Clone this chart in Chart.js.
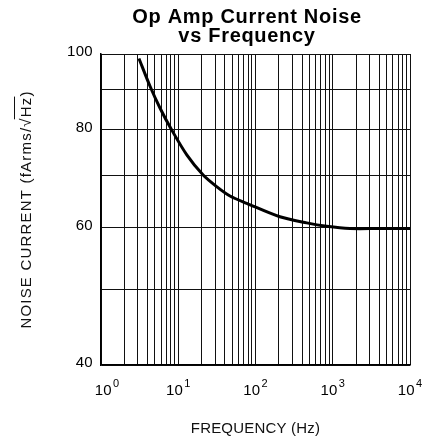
<!DOCTYPE html>
<html>
<head>
<meta charset="utf-8">
<script src="https://cdn.jsdelivr.net/npm/chart.js@4"></script>
<style>
  html, body { margin: 0; padding: 0; background: #fff; }
  #wrap { width: 427px; height: 440px; position: relative; }
</style>
</head>
<body>
<div id="wrap"><canvas id="noiseChart" width="427" height="440"></canvas></div>
<script>
// Values
const freqHz = [3.1, 4.3, 5.8, 8.2, 12.9, 21, 31.7, 46.8, 77, 207, 460, 834, 1670, 4000, 10000];
const noiseFa = [98.7, 91, 85.3, 80, 74.3, 70, 67.6, 65.8, 64.4, 61.9, 60.8, 60.2, 59.8, 59.8, 59.8];

// Grid lines and labelled ticks
const yGridValues = [40, 50, 60, 70, 80, 90, 100];
const yLabelValues = [40, 60, 80, 100];
const xDecades = [1, 10, 100, 1000];
const xSteps = [1, 2, 3, 4, 5, 6, 7, 8, 9];
const xLabelPowers = [0, 1, 2, 3, 4];

const titleLines = ['Op Amp Current Noise', 'vs Frequency'];
const xTitle = 'FREQUENCY (Hz)';
const yTitleMain = 'NOISE CURRENT (fArms/\u221A';
const yTitleRoot = 'Hz';
const yTitleEnd = ')';

// Draws titles and tick labels (superscript exponents) on top of the chart
const labelPlugin = {
    id: 'labels',
    afterDraw(chart) {
        const ctx = chart.ctx;
        const xs = chart.scales.x;
        const ys = chart.scales.y;
        const area = chart.chartArea;
        ctx.save();
        ctx.fillStyle = '#000';

        // title
        ctx.font = 'bold 20px "Liberation Sans", Arial, sans-serif';
        ctx.letterSpacing = '0.7px';
        ctx.textAlign = 'center';
        ctx.textBaseline = 'alphabetic';
        ctx.fillText(titleLines[0], 247, 23);
        ctx.fillText(titleLines[1], 247, 42);

        // y tick labels
        ctx.font = '15px "Liberation Sans", Arial, sans-serif';
        ctx.letterSpacing = '0.3px';
        ctx.textAlign = 'right';
        ctx.textBaseline = 'middle';
        yLabelValues.forEach(v => {
            ctx.fillText(String(v), area.left - 8, ys.getPixelForValue(v) - 2);
        });

        // x tick labels: 10 with raised exponent
        ctx.textAlign = 'left';
        ctx.textBaseline = 'alphabetic';
        xLabelPowers.forEach(p => {
            const px = xs.getPixelForValue(Math.pow(10, p));
            ctx.font = '15px "Liberation Sans", Arial, sans-serif';
            ctx.letterSpacing = '0.3px';
            const base = '10';
            const wBase = ctx.measureText(base).width;
            ctx.font = '11px "Liberation Sans", Arial, sans-serif';
            const exp = String(p);
            const wExp = ctx.measureText(exp).width;
            let left = px - (wBase + 1 + wExp) / 2;
            if (p === 0) left += 6;
            ctx.font = '15px "Liberation Sans", Arial, sans-serif';
            ctx.fillText(base, left, 395);
            ctx.font = '11px "Liberation Sans", Arial, sans-serif';
            ctx.fillText(exp, left + wBase + 1, 387);
        });

        // x axis title
        ctx.fillStyle = '#111';
        ctx.font = '15px "Liberation Sans", Arial, sans-serif';
        ctx.letterSpacing = '0.2px';
        ctx.textAlign = 'center';
        ctx.fillText(xTitle, (area.left + area.right) / 2, 433);

        // y axis title, rotated, with the root bar over Hz
        ctx.translate(31, (area.top + area.bottom) / 2);
        ctx.rotate(-Math.PI / 2);
        ctx.letterSpacing = '1.2px';
        ctx.textAlign = 'left';
        const w1 = ctx.measureText(yTitleMain).width;
        const w2 = ctx.measureText(yTitleRoot).width;
        const w3 = ctx.measureText(yTitleEnd).width;
        const start = -(w1 + w2 + w3) / 2;
        ctx.fillText(yTitleMain, start, 0);
        ctx.fillText(yTitleRoot, start + w1, 0);
        ctx.fillText(yTitleEnd, start + w1 + w2, 0);
        ctx.strokeStyle = '#111';
        ctx.lineWidth = 1;
        ctx.beginPath();
        ctx.moveTo(start + w1 - 2, -16.5);
        ctx.lineTo(start + w1 + w2, -16.5);
        ctx.stroke();
        ctx.restore();
    }
};

const ctx = document.getElementById('noiseChart').getContext('2d');
new Chart(ctx, {
    type: 'line',
    data: {
        datasets: [{
            data: freqHz.map((f, i) => ({ x: f, y: noiseFa[i] })),
            borderColor: '#000',
            borderWidth: 3,
            pointRadius: 0,
            tension: 0.3,
            fill: false
        }]
    },
    options: {
        responsive: false,
        animation: false,
        layout: {
            padding: { left: 101, right: 17, top: 54, bottom: 75 }
        },
        plugins: {
            legend: { display: false },
            tooltip: { enabled: false },
            title: { display: false }
        },
        scales: {
            x: {
                type: 'logarithmic',
                min: 1,
                max: 10000,
                afterBuildTicks: (scale) => {
                    const ticks = [];
                    xDecades.forEach(d => xSteps.forEach(s => ticks.push({ value: d * s })));
                    ticks.push({ value: 10000 });
                    scale.ticks = ticks;
                },
                ticks: { display: false },
                grid: {
                    color: '#111',
                    lineWidth: 1,
                    drawTicks: false
                },
                border: { color: '#000', width: 1.5 }
            },
            y: {
                type: 'logarithmic',
                min: 40,
                max: 100,
                afterBuildTicks: (scale) => {
                    scale.ticks = yGridValues.map(v => ({ value: v }));
                },
                ticks: { display: false, autoSkip: false },
                grid: {
                    color: '#111',
                    lineWidth: 1,
                    drawTicks: false
                },
                border: { color: '#000', width: 1.5 }
            }
        }
    },
    plugins: [labelPlugin]
});
</script>
</body>
</html>
